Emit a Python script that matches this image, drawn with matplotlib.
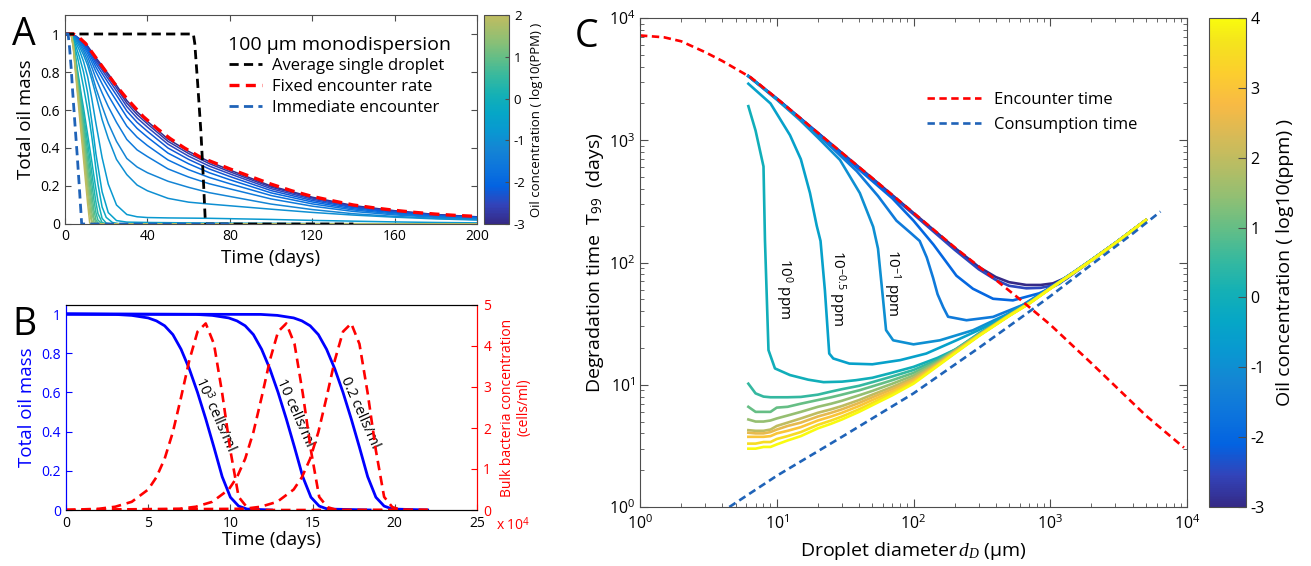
import matplotlib
matplotlib.use("Agg")
import matplotlib.pyplot as plt
from matplotlib.colors import LinearSegmentedColormap, ListedColormap, Normalize
from matplotlib.lines import Line2D
from matplotlib.cm import ScalarMappable
import numpy as np

plt.rcParams['font.family'] = ['Open Sans', 'DejaVu Sans']
plt.rcParams['mathtext.fontset'] = 'custom'
plt.rcParams['mathtext.rm'] = 'Open Sans'
plt.rcParams['mathtext.it'] = 'Liberation Serif:italic'
plt.rcParams['mathtext.bf'] = 'Open Sans:bold'
plt.rcParams['axes.unicode_minus'] = False
plt.rcParams['xtick.direction'] = 'in'
plt.rcParams['ytick.direction'] = 'in'
plt.rcParams['axes.edgecolor'] = '0.3'
plt.rcParams['xtick.color'] = '0.3'
plt.rcParams['ytick.color'] = '0.3'
plt.rcParams['xtick.labelcolor'] = 'black'
plt.rcParams['ytick.labelcolor'] = 'black'

# ---------------- DATA ----------------
# Panel A: total oil mass vs time, curves per log10 oil concentration
A_t_slow = [0, 3, 5, 7, 9, 11, 13, 15, 18, 21, 25, 30, 35, 40, 50, 60, 70, 80, 100, 120, 140, 160, 180, 200]
A_conc_slow = [-3.0, -2.75, -2.5, -2.25, -2.0, -1.75, -1.5, -1.25, -1.0, -0.75, -0.5]
A_slow = [
    [1, 1, .99, .975, .957, .936, .906, .875, .833, .79, .73, .65, .59, .54, .447, .382, .328, .284, .20, .141, .097, .07, .05, .038],
    [1, 1, .99, .974, .954, .932, .90, .867, .823, .778, .717, .636, .576, .527, .435, .371, .318, .275, .194, .137, .094, .068, .049, .037],
    [1, 1, .99, .972, .951, .927, .893, .857, .81, .763, .70, .618, .558, .51, .42, .357, .305, .264, .186, .131, .09, .065, .047, .035],
    [1, 1, .99, .969, .947, .92, .883, .844, .793, .743, .678, .595, .535, .488, .40, .34, .29, .25, .176, .124, .086, .062, .045, .034],
    [1, 1, .985, .966, .942, .911, .87, .826, .77, .716, .648, .563, .503, .457, .373, .317, .27, .233, .164, .116, .08, .058, .042, .032],
    [1, 1, .985, .962, .934, .898, .852, .802, .738, .677, .603, .515, .457, .413, .337, .286, .245, .212, .15, .106, .074, .053, .039, .03],
    [1, 1, .98, .955, .922, .88, .826, .766, .69, .618, .535, .445, .39, .355, .29, .247, .212, .185, .132, .094, .066, .048, .035, .027],
    [1, 1, .975, .948, .908, .858, .79, .716, .62, .53, .435, .345, .30, .27, .225, .193, .165, .145, .105, .076, .054, .04, .03, .023],
    [1, 1, .97, .935, .89, .835, .76, .68, .55, .45, .34, .26, .205, .175, .135, .115, .105, .096, .078, .061, .047, .036, .027, .021],
    [1, 1, .96, .915, .855, .775, .66, .53, .35, .21, .10, .05, .038, .034, .032, .031, .03, .028, .024, .019, .015, .011, .008, .006],
    [1, 1, .945, .88, .80, .69, .54, .37, .17, .06, .018, .01, .009, .008, .007, .006, .005, .0045, .0035, .0025, .002, .0015, .001, .001],
]
A_t_fast = [0, 3, 4, 5, 6, 7, 8, 9, 10, 11, 12, 13, 14, 15, 16, 18, 20, 23, 26, 30, 200]
A_conc_fast = [-0.25, 0.0, 0.25, 0.5, 0.75, 1.0, 1.25, 1.5, 1.75, 2.0]
A_fast = [
    [1, .999, .985, .92, .88, .83, .775, .72, .66, .60, .535, .46, .38, .29, .21, .09, .035, .008, .002, 0, 0],
    [1, .999, .97, .89, .815, .745, .675, .61, .54, .47, .40, .33, .255, .185, .12, .03, .005, 0, 0, 0, 0],
    [1, .999, .965, .88, .80, .725, .65, .575, .50, .425, .35, .27, .19, .115, .055, .008, .001, 0, 0, 0, 0],
    [1, .998, .96, .87, .785, .705, .625, .545, .46, .38, .30, .215, .13, .06, .02, .002, 0, 0, 0, 0, 0],
    [1, .998, .955, .86, .77, .685, .595, .51, .42, .335, .25, .16, .075, .022, .005, 0, 0, 0, 0, 0, 0],
    [1, .998, .95, .85, .755, .665, .57, .475, .385, .29, .20, .11, .035, .007, .001, 0, 0, 0, 0, 0, 0],
    [1, .998, .945, .84, .74, .645, .545, .445, .35, .25, .155, .06, .012, .001, 0, 0, 0, 0, 0, 0, 0],
    [1, .997, .94, .83, .725, .62, .515, .41, .31, .205, .105, .02, .001, 0, 0, 0, 0, 0, 0, 0, 0],
    [1, .997, .935, .82, .71, .60, .49, .38, .27, .16, .055, .005, 0, 0, 0, 0, 0, 0, 0, 0, 0],
    [1, .997, .93, .81, .69, .57, .455, .34, .22, .105, .005, 0, 0, 0, 0, 0, 0, 0, 0, 0, 0],
]
A_red_t = [0, 4, 6, 10, 14, 20, 24, 30, 38, 45, 51, 58, 66, 73, 80, 90, 100, 110, 120, 130, 140, 150, 160, 170, 180, 190, 200]
A_red_v = [1, 1, .99, .95, .89, .80, .74, .66, .565, .50, .45, .40, .35, .32, .29, .25, .21, .175, .145, .122, .10, .085, .072, .061, .052, .045, .04]
A_black_t = [0, 62.3, 63.0, 64.4, 66.0, 67.1, 68.0, 68.3, 140]
A_black_v = [1, 1, .95, .74, .48, .25, .04, 0, 0]
A_blue_t = [0, 1.5, 2.2, 3.0, 3.7, 4.8, 6.0, 7.1, 8.1, 80]
A_blue_v = [1, 1, .93, .82, .70, .53, .35, .17, 0, 0]
A_xticks = [0, 40, 80, 120, 160, 200]
A_yticks = [0, 0.2, 0.4, 0.6, 0.8, 1.0]
A_yticklabels = ['0', '0.2', '0.4', '0.6', '0.8', '1']
A_legend_title = '100 µm monodispersion'
A_legend_labels = ['Average single droplet', 'Fixed encounter rate', 'Immediate encounter']

# Panel B: oil mass (left) and bulk bacteria (right, x1e4 cells/ml)
B_t1 = [0, 3, 4, 5, 5.5, 6, 6.5, 7, 7.5, 8, 8.5, 9, 9.5, 10, 10.5, 11, 12.5]
B_m1 = [1, .998, .993, .98, .965, .94, .895, .82, .72, .60, .465, .32, .17, .065, .02, .005, 0]
B_t2 = [0, 7.9, 8.9, 9.9, 10.4, 10.9, 11.4, 11.9, 12.4, 12.9, 13.4, 13.9, 14.4, 14.9, 15.4, 15.9, 18.5]
B_m2 = [1, .998, .993, .98, .965, .94, .895, .82, .72, .60, .465, .32, .17, .065, .02, .005, 0]
B_t3 = [0, 11.85, 12.85, 13.85, 14.35, 14.85, 15.35, 15.85, 16.35, 16.85, 17.35, 17.85, 18.35, 18.85, 19.35, 19.85, 22]
B_m3 = [1, .998, .993, .98, .965, .94, .895, .82, .72, .60, .465, .32, .17, .065, .02, .005, 0]
B_bt1 = [0, 2, 3, 4, 5, 5.5, 6, 6.5, 7, 7.5, 8, 8.5, 9, 9.5, 10, 10.5, 11, 11.5, 12, 22]
B_b1 = [0, .03, .08, .2, .5, .8, 1.25, 1.9, 2.75, 3.65, 4.35, 4.55, 4.05, 2.85, 1.45, .32, .07, .01, 0, 0]
B_bt2 = [0, 6.9, 7.9, 8.9, 9.9, 10.4, 10.9, 11.4, 11.9, 12.4, 12.9, 13.4, 13.9, 14.4, 14.9, 15.4, 15.9, 16.4, 16.9, 22]
B_b2 = [0, .03, .08, .2, .5, .8, 1.25, 1.9, 2.75, 3.65, 4.35, 4.55, 4.05, 2.85, 1.45, .32, .07, .01, 0, 0]
B_bt3 = [0, 10.85, 11.85, 12.85, 13.85, 14.35, 14.85, 15.35, 15.85, 16.35, 16.85, 17.35, 17.85, 18.35, 18.85, 19.35, 19.85, 20.35, 20.85, 22]
B_b3 = [0, .03, .08, .2, .5, .8, 1.25, 1.9, 2.75, 3.65, 4.35, 4.55, 4.05, 2.85, 1.45, .32, .07, .01, 0, 0]
B_labels = [r'10$^3$ cells/ml', '10 cells/ml', '0.2 cells/ml']
B_label_t = [9.1, 13.95, 17.9]
B_label_v = [0.49, 0.495, 0.495]
B_xticks = [0, 5, 10, 15, 20, 25]
B_yticks = [0, 0.2, 0.4, 0.6, 0.8, 1.0]
B_yticklabels = ['0', '0.2', '0.4', '0.6', '0.8', '1']
B_rticks = [0, 1, 2, 3, 4, 5]

# Panel C: degradation time vs droplet diameter
C_enc_d = [1, 1.5, 2, 3, 4, 5, 6.5, 10, 20, 50, 100, 200, 400, 600, 1000, 2000, 5000, 9500]
C_enc_T = [7200, 6950, 6450, 5250, 4450, 3850, 3250, 2200, 1150, 490, 255, 133, 72, 50, 31, 15, 5.6, 3.06]
C_con_d = [4.5, 10, 30, 100, 300, 700, 1000, 2000, 4000, 6400]
C_con_T = [1.0, 1.8, 3.75, 8.5, 20, 39.5, 53, 96, 172, 261]

C_conc_high = [-3.0, -2.5, -2.0, -1.5, -1.0, -0.5, 0.0]
C_d_high = [
    [6.2, 10, 20, 50, 100, 200, 300, 400, 500, 668, 850, 1046, 1300, 1500, 2000, 3000, 5000],
    [6.2, 10, 20, 50, 100, 200, 300, 400, 500, 668, 850, 1046, 1300, 1500, 2000, 3000, 5000],
    [6.2, 10, 20, 40, 70, 100, 140, 206, 272, 382, 533, 832, 1164, 1500, 2000, 3000, 5000],
    [6.2, 10, 16.5, 25, 38.4, 55, 75, 95, 111, 125, 139, 150, 165, 179, 244, 382, 631, 988, 1500, 2000, 3000, 5000],
    [6.2, 10, 14.8, 20, 29, 40.5, 50.7, 55, 60, 63, 71, 100, 156, 272, 477, 836, 1200, 1500, 2000, 3000, 5000],
    [6.2, 9, 12.5, 15, 17.5, 19.6, 20.9, 22.5, 24.2, 25.9, 34, 50, 80, 124, 206, 300, 500, 700, 1000, 1500, 2000, 3000, 5000],
    [6.2, 7, 8.0, 8.2, 8.7, 9.7, 12.5, 17, 22, 30, 38, 50, 67, 100, 150, 206, 300, 500, 700, 1000, 1500, 2000, 3000, 5000],
]
C_T_high = [
    [3352, 2195, 1148, 488, 254, 132, 92, 76, 69, 65.5, 65.5, 67.5, 75, 83, 104, 144.5, 222],
    [3350, 2190, 1140, 480, 248, 127, 88, 72, 64.5, 61.5, 62, 65, 73, 82, 104, 144.5, 222],
    [3348, 2180, 1120, 575, 335, 220, 140, 78, 61, 50.5, 49, 56, 67, 83, 104.5, 144.8, 222],
    [3345, 2170, 1350, 880, 560, 350, 220, 175, 150, 110, 75, 55, 43, 36, 33.7, 35.9, 45, 62, 84, 105, 144.8, 222],
    [3340, 2150, 1460, 1050, 690, 370, 196, 130, 49, 28, 23.1, 21.4, 23.1, 27.9, 37.5, 54, 71, 84, 105, 144.8, 222],
    [2900, 2000, 1100, 700, 370, 200, 150, 59, 18, 16.4, 14.9, 14.7, 15.9, 18.0, 23.1, 28.0, 37.6, 47.0, 61.9, 84, 105, 144.8, 222],
    [1900, 1200, 610, 152, 19.2, 13.6, 12.0, 11.0, 10.5, 10.6, 10.9, 11.4, 12.4, 14.0, 16.6, 19.6, 26.3, 37.5, 46.8, 61.8, 83.8, 104.8, 144.7, 222],
]
C_conc_low = [0.5, 1.0, 1.5, 2.0, 2.5, 3.0, 3.5, 4.0]
C_d_low = [6.2, 7, 8, 9, 10, 12, 15, 20, 25, 30, 40, 50, 70, 100, 150, 200, 300, 500, 700, 1000, 1500, 2000, 3000, 5000]
C_T_low = [
    [10.2, 8.5, 8.0, 7.9, 7.9, 7.9, 7.95, 8.3, 8.8, 9.2, 9.8, 10.5, 11.7, 13.2, 16.0, 19.3, 26.0, 37.3, 46.7, 61.7, 83.7, 104.7, 144.6, 222],
    [6.6, 6.0, 6.0, 6.0, 6.5, 6.6, 7.0, 7.5, 7.9, 8.3, 9.0, 9.7, 10.9, 12.5, 15.6, 19.1, 25.8, 37.1, 46.6, 61.6, 83.6, 104.6, 144.5, 222],
    [5.2, 5.0, 5.0, 5.1, 5.3, 5.6, 6.0, 6.6, 7.0, 7.4, 8.2, 8.9, 10.2, 11.9, 15.25, 18.9, 25.6, 37.0, 46.5, 61.5, 83.5, 104.5, 144.4, 222],
    [4.25, 4.2, 4.2, 4.3, 4.6, 4.9, 5.3, 5.9, 6.3, 6.7, 7.5, 8.3, 9.6, 11.4, 14.95, 18.7, 25.45, 36.9, 46.4, 61.4, 83.4, 104.4, 144.3, 222],
    [4.05, 4.0, 4.0, 4.1, 4.3, 4.6, 4.9, 5.5, 5.9, 6.3, 7.1, 7.9, 9.2, 11.0, 14.7, 18.5, 25.3, 36.8, 46.3, 61.3, 83.3, 104.3, 144.2, 222],
    [3.75, 3.75, 3.75, 3.8, 4.0, 4.2, 4.5, 5.1, 5.5, 5.9, 6.7, 7.5, 8.8, 10.7, 14.5, 18.3, 25.2, 36.7, 46.2, 61.2, 83.2, 104.2, 144.1, 222],
    [3.3, 3.3, 3.4, 3.4, 3.6, 3.8, 4.1, 4.7, 5.1, 5.5, 6.3, 7.1, 8.5, 10.4, 14.35, 18.1, 25.1, 36.6, 46.1, 61.1, 83.1, 104, 144, 222],
    [3.0, 3.0, 3.1, 3.1, 3.25, 3.5, 3.8, 4.4, 4.8, 5.2, 6.0, 6.8, 8.2, 10.2, 14.2, 18.0, 25.0, 36.5, 46.0, 61.0, 83.0, 104, 144, 222],
]
C_labels = [r'10$^{0}$ ppm', r'10$^{-0.5}$ ppm', r'10$^{-1}$ ppm']
C_label_d = [11.3, 27.5, 69.5]
C_label_T = [61, 62, 68]
C_legend_labels = ['Encounter time', 'Consumption time']
C_cbar_ticks = [-3, -2, -1, 0, 1, 2, 3, 4]
A_cbar_ticks = [-3, -2, -1, 0, 1, 2]

# parula colormap anchors (MATLAB)
parula_anchors = [
    [0.2081, 0.1663, 0.5292], [0.1959, 0.2645, 0.7279], [0.0117, 0.3875, 0.8820],
    [0.0498, 0.4586, 0.8641], [0.0793, 0.5200, 0.8312], [0.0343, 0.5966, 0.8199],
    [0.0228, 0.6535, 0.7768], [0.0843, 0.6928, 0.7062], [0.2178, 0.7250, 0.6193],
    [0.3953, 0.7459, 0.5244], [0.5709, 0.7485, 0.4494], [0.7184, 0.7411, 0.3905],
    [0.8507, 0.7299, 0.3360], [0.9739, 0.7314, 0.2666], [0.9880, 0.8066, 0.1794],
    [0.9589, 0.8949, 0.1132], [0.9763, 0.9831, 0.0538],
]
parula_pos = [0, 4/63, 8/63, 12/63, 16/63, 20/63, 24/63, 28/63, 32/63, 36/63, 40/63,
              44/63, 48/63, 52/63, 56/63, 60/63, 1.0]
parula = LinearSegmentedColormap.from_list('parula', list(zip(parula_pos, parula_anchors)), N=256)
norm = Normalize(-3, 4)
parulaA = ListedColormap(parula(np.linspace(0, 5/7, 256)))
normA = Normalize(-3, 2)

# ---------------- FIGURE ----------------
W, H = 1311, 566
fig = plt.figure(figsize=(W/100, H/100), dpi=100)

def rect(l, t, r, b):
    return [l/W, 1 - b/H, (r - l)/W, (b - t)/H]

axA = fig.add_axes(rect(65, 15, 477, 224))
caxA = fig.add_axes(rect(484, 15, 509, 224))
axB = fig.add_axes(rect(66, 305, 477, 510))
axC = fig.add_axes(rect(640, 18, 1187, 507))
caxC = fig.add_axes(rect(1209, 18, 1246, 507))

blue_dash = '#1f63b8'

# ---- Panel A ----
for c, v in zip(A_conc_slow, A_slow):
    axA.plot(A_t_slow, v, color=parula(norm(c)), lw=1.1)
for c, v in zip(A_conc_fast, A_fast):
    axA.plot(A_t_fast, v, color=parula(norm(c)), lw=1.1)
axA.plot(A_red_t, A_red_v, color='red', ls=(0, (3.0, 1.9)), lw=2.4)
axA.plot(A_black_t, A_black_v, color='black', ls=(0, (3.3, 1.9)), lw=2.0)
axA.plot(A_blue_t, A_blue_v, color=blue_dash, ls=(0, (3.3, 1.9)), lw=2.0)
axA.set_xlim(0, 200)
axA.set_ylim(0, 1.1)
axA.set_xticks(A_xticks)
axA.set_yticks(A_yticks)
axA.set_yticklabels(A_yticklabels)
axA.tick_params(top=True, right=True, labelsize=10, length=4)
axA.set_xlabel('Time (days)', fontsize=13.5, labelpad=4)
axA.set_ylabel('Total oil mass', fontsize=13.5, labelpad=4)
axA.text((228 - 65) / 412, (224 - 45) / 209, A_legend_title, transform=axA.transAxes,
         fontsize=14, ha='left', va='center')
hA = [Line2D([], [], color='black', ls=(0, (3.3, 1.9)), lw=2.0),
      Line2D([], [], color='red', ls=(0, (3.0, 1.9)), lw=2.4),
      Line2D([], [], color=blue_dash, ls=(0, (3.3, 1.9)), lw=2.0)]
axA.legend(hA, A_legend_labels, loc='upper left',
           bbox_to_anchor=((229 - 65) / 412, (224 - 58) / 209), frameon=False, fontsize=12,
           handlelength=2.0, handletextpad=0.6, labelspacing=0.3,
           borderaxespad=0, borderpad=0)

cbA = fig.colorbar(ScalarMappable(norm=normA, cmap=parulaA), cax=caxA, ticks=A_cbar_ticks)
cbA.ax.tick_params(labelsize=9.5, direction='in', length=3)
cbA.set_label('Oil concentration ( log10(PPM) )', fontsize=9.5, labelpad=3)
cbA.outline.set_edgecolor('0.3')

fig.text(12/W, 1 - 45/H, 'A', fontsize=27, va='baseline', ha='left')

# ---- Panel B ----
for t, m in [(B_t1, B_m1), (B_t2, B_m2), (B_t3, B_m3)]:
    axB.plot(t, m, color=(0, 0, 1), lw=2.0)
axB.set_xlim(0, 25)
axB.set_ylim(0, 1.046)
axB.set_xticks(B_xticks)
axB.set_yticks(B_yticks)
axB.set_yticklabels(B_yticklabels)
axB.tick_params(axis='x', labelsize=10, length=4, pad=4.5)
axB.tick_params(axis='y', colors='blue', labelcolor='blue', labelsize=10, length=4)
axB.set_xlabel('Time (days)', fontsize=13.5, labelpad=0, color='black')
axB.set_ylabel('Total oil mass', fontsize=13.5, labelpad=4, color='blue')
for lab, t, v in zip(B_labels, B_label_t, B_label_v):
    axB.text(t, v, lab, rotation=-66, ha='center', va='center', fontsize=10.5,
             rotation_mode='anchor', color='black')
axB2 = axB.twinx()
for t, b in [(B_bt1, B_b1), (B_bt2, B_b2), (B_bt3, B_b3)]:
    axB2.plot(t, b, color='red', ls=(0, (3.6, 2.2)), lw=1.9)
axB2.set_ylim(0, 5)
axB2.set_yticks(B_rticks)
axB2.tick_params(axis='y', colors='red', labelcolor='red', labelsize=10, length=4,
                 direction='in', pad=4.5)
axB2.set_ylabel('Bulk bacteria concentration\n(cells/ml)', color='red', fontsize=10, labelpad=6)
for ax in (axB, axB2):
    ax.spines['left'].set_color('blue')
    ax.spines['right'].set_color('red')
    ax.spines['top'].set_color('black')
    ax.spines['bottom'].set_color('black')
fig.text(496/W, 1 - 525/H, r'x 10$^4$', color='red', fontsize=10, va='center', ha='left')
fig.text(12/W, 1 - 335/H, 'B', fontsize=27, va='baseline', ha='left')

# ---- Panel C ----
axC.set_xscale('log')
axC.set_yscale('log')
for c, d, T in zip(C_conc_high, C_d_high, C_T_high):
    axC.plot(d, T, color=parula(norm(c)), lw=1.9)
for c, T in zip(C_conc_low, C_T_low):
    axC.plot(C_d_low, T, color=parula(norm(c)), lw=1.9)
axC.plot(C_enc_d, C_enc_T, color='red', ls=(0, (2.8, 1.7)), lw=1.9)
axC.plot(C_con_d, C_con_T, color=blue_dash, ls=(0, (2.8, 1.7)), lw=1.9)
axC.set_xlim(1, 1e4)
axC.set_ylim(1, 1e4)
axC.tick_params(which='both', top=True, right=True)
axC.tick_params(which='major', length=6, labelsize=11.5)
axC.tick_params(axis='x', which='major', pad=5)
axC.tick_params(which='minor', length=3)
axC.set_xlabel(r'Droplet diameter$\,d_D$ (µm)', fontsize=14, labelpad=5)
axC.set_ylabel(r'Degradation time  T$_{99}$  (days)', fontsize=14, labelpad=2)
for lab, d, T in zip(C_labels, C_label_d, C_label_T):
    axC.text(d, T, lab, rotation=-90, ha='center', va='center', fontsize=11)
hC = [Line2D([], [], color='red', ls=(0, (2.8, 1.7)), lw=1.9),
      Line2D([], [], color=blue_dash, ls=(0, (2.8, 1.7)), lw=1.9)]
axC.legend(hC, C_legend_labels, loc='upper left', bbox_to_anchor=(0.525, 0.848),
           frameon=False, fontsize=12, handlelength=3.2, handletextpad=0.8,
           labelspacing=0.5, borderaxespad=0, borderpad=0)

cbC = fig.colorbar(ScalarMappable(norm=norm, cmap=parula), cax=caxC, ticks=C_cbar_ticks)
cbC.ax.tick_params(labelsize=11.5, direction='in', length=6, pad=3)
cbC.set_label('Oil concentration ( log10(ppm) )', fontsize=14, labelpad=8)
cbC.outline.set_edgecolor('0.3')

fig.text(575/W, 1 - 47/H, 'C', fontsize=27, va='baseline', ha='left')

fig.savefig('out.png', dpi=100)
